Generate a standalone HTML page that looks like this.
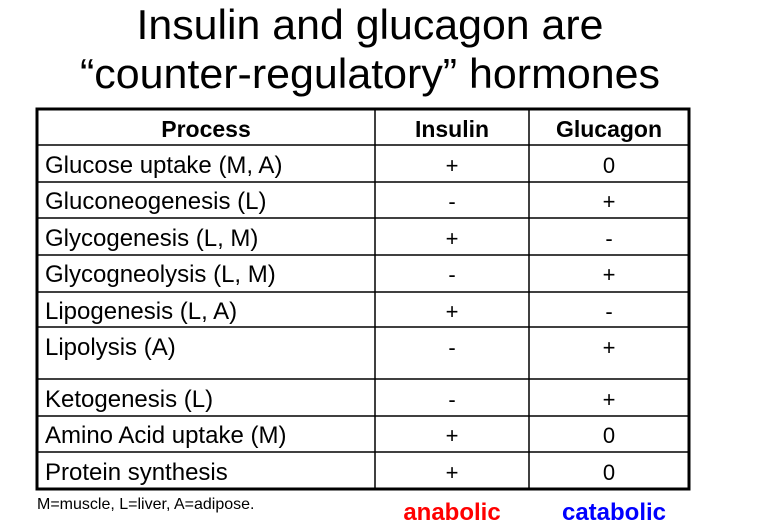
<!DOCTYPE html>
<html><head><meta charset="utf-8"><style>
html,body{margin:0;padding:0;background:#fff;}
svg{display:block;}
text{font-family:"Liberation Sans",Arial,sans-serif;}
</style></head><body>
<svg width="764" height="532" viewBox="0 0 764 532" xmlns="http://www.w3.org/2000/svg">
<rect width="764" height="532" fill="#fff"/>
<text x="370" y="39" font-size="42" text-anchor="middle" textLength="467" lengthAdjust="spacingAndGlyphs">Insulin and glucagon are</text>
<text x="370" y="88" font-size="42" text-anchor="middle" textLength="580" lengthAdjust="spacingAndGlyphs">“counter-regulatory” hormones</text>
<g stroke="#000" stroke-width="1.5">
<line x1="36" y1="145" x2="690" y2="145"/>
<line x1="36" y1="182" x2="690" y2="182"/>
<line x1="36" y1="218" x2="690" y2="218"/>
<line x1="36" y1="255" x2="690" y2="255"/>
<line x1="36" y1="292" x2="690" y2="292"/>
<line x1="36" y1="327" x2="690" y2="327"/>
<line x1="36" y1="379" x2="690" y2="379"/>
<line x1="36" y1="416" x2="690" y2="416"/>
<line x1="36" y1="452" x2="690" y2="452"/>
<line x1="375" y1="108" x2="375" y2="489"/>
<line x1="529" y1="108" x2="529" y2="489"/>
</g>
<rect x="37" y="109" width="652" height="380" fill="none" stroke="#000" stroke-width="3"/>
<g font-size="24" fill="#000">
<g font-weight="bold" text-anchor="middle" font-size="23">
<text x="206" y="137">Process</text>
<text x="452" y="137">Insulin</text>
<text x="609" y="137">Glucagon</text>
</g>
<text x="45" y="173">Glucose uptake (M, A)</text>
<text x="45" y="209">Gluconeogenesis (L)</text>
<text x="45" y="246">Glycogenesis (L, M)</text>
<text x="45" y="282">Glycogneolysis (L, M)</text>
<text x="45" y="319">Lipogenesis (L, A)</text>
<text x="45" y="355">Lipolysis (A)</text>
<text x="45" y="407">Ketogenesis (L)</text>
<text x="45" y="443">Amino Acid uptake (M)</text>
<text x="45" y="480">Protein synthesis</text>
<g text-anchor="middle" font-size="22">
<text x="452" y="173">+</text><text x="609" y="173">0</text>
<text x="452" y="209">-</text><text x="609" y="209">+</text>
<text x="452" y="246">+</text><text x="609" y="246">-</text>
<text x="452" y="282">-</text><text x="609" y="282">+</text>
<text x="452" y="319">+</text><text x="609" y="319">-</text>
<text x="452" y="355">-</text><text x="609" y="355">+</text>
<text x="452" y="407">-</text><text x="609" y="407">+</text>
<text x="452" y="443">+</text><text x="609" y="443">0</text>
<text x="452" y="480">+</text><text x="609" y="480">0</text>
</g>
</g>
<text x="37" y="509" font-size="16">M=muscle, L=liver, A=adipose.</text>
<text x="452" y="520" font-size="24" font-weight="bold" fill="#ff0000" text-anchor="middle">anabolic</text>
<text x="614" y="520" font-size="24" font-weight="bold" fill="#0000ff" text-anchor="middle">catabolic</text>
</svg>
</body></html>
